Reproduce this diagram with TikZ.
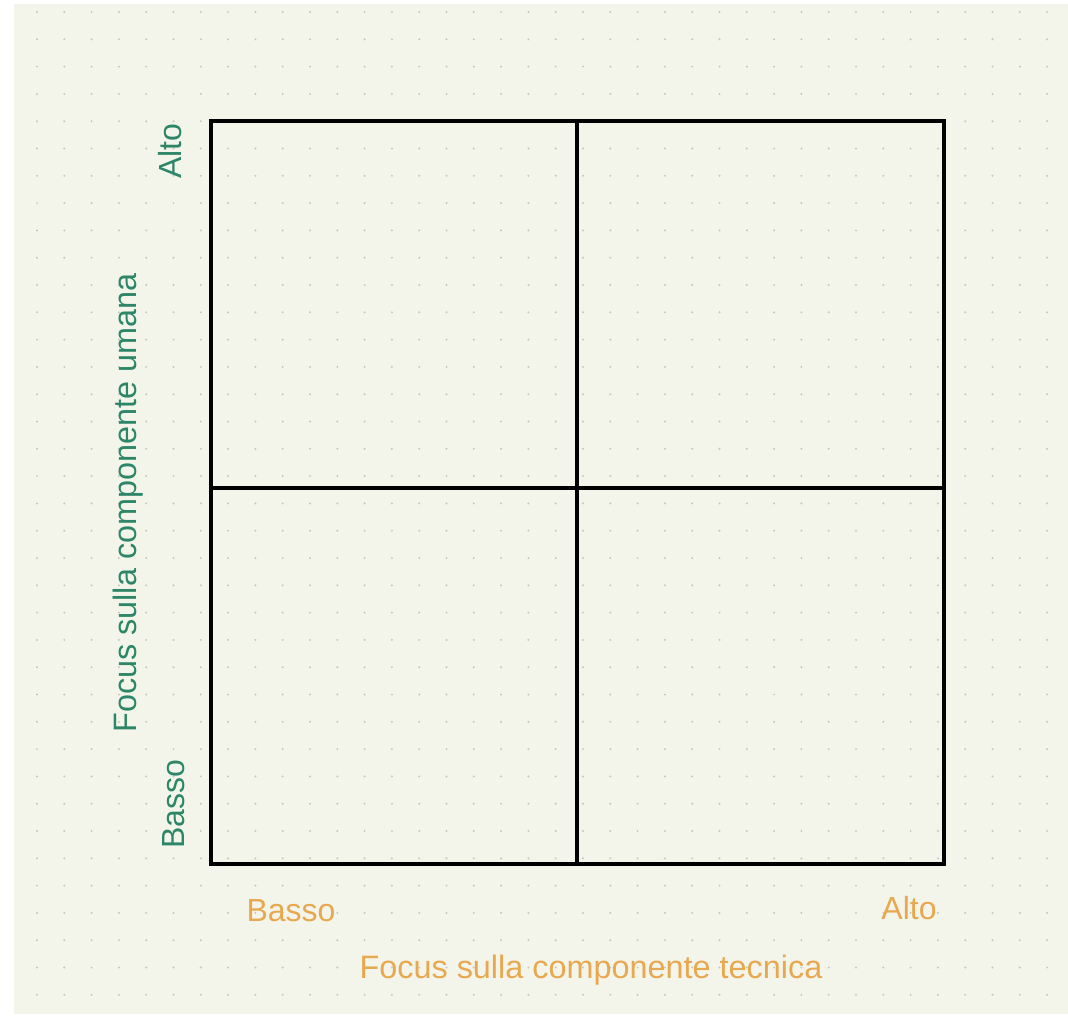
\documentclass[tikz,border=0pt]{standalone}
\usepackage{fontspec}
\setmainfont{Liberation Sans}
\usetikzlibrary{positioning,calc}
\definecolor{paper}{RGB}{244,245,234}
\definecolor{griddot}{RGB}{198,198,188}
\definecolor{umano}{RGB}{46,134,104}
\definecolor{tecnico}{RGB}{232,168,80}

\begin{document}
\begin{tikzpicture}[x=0.75pt, y=-0.75pt,
  axlbl/.style={font=\fontsize{24.3}{28}\selectfont, inner sep=0pt},
  lvl/.style={font=\fontsize{24}{28}\selectfont, inner sep=0pt},
  quad/.style={line width=3pt, line cap=rect}]
  % sfondo e griglia a punti
  \useasboundingbox (0,0) rectangle (1068,1017);
  \fill[white] (0,0) rectangle (1068,1017);
  \fill[paper] (14,4) rectangle (1068,1014);
  \foreach \i in {0,...,37}
    \foreach \j in {0,...,36}
      \fill[griddot] ({37+27.3*\i},{12+27.3*\j}) circle (1.1);
  % matrice 2x2
  \coordinate (BL) at (211,864);
  \coordinate (TR) at (944,121);
  \coordinate (MX) at (577,488);
  \draw[quad] (BL) rectangle (TR);
  \draw[quad] (MX |- TR) -- (MX |- BL);
  \draw[quad] (MX -| BL) -- (MX -| TR);
  % asse verticale
  \node[axlbl, rotate=90, text=umano] (yAxis) at (128,503) {Focus sulla componente umana};
  \node[lvl, rotate=90, text=umano] (yHigh) at (170,151) {Alto};
  \node[lvl, rotate=90, text=umano] (yLow) at (174,804) {Basso};
  % asse orizzontale
  \node[axlbl, text=tecnico] (xAxis) at (591,970) {Focus sulla componente tecnica};
  \node[lvl, text=tecnico] (xLow) at (291,911) {Basso};
  \node[lvl, text=tecnico] (xHigh) at (909,908) {Alto};
\end{tikzpicture}
\end{document}
